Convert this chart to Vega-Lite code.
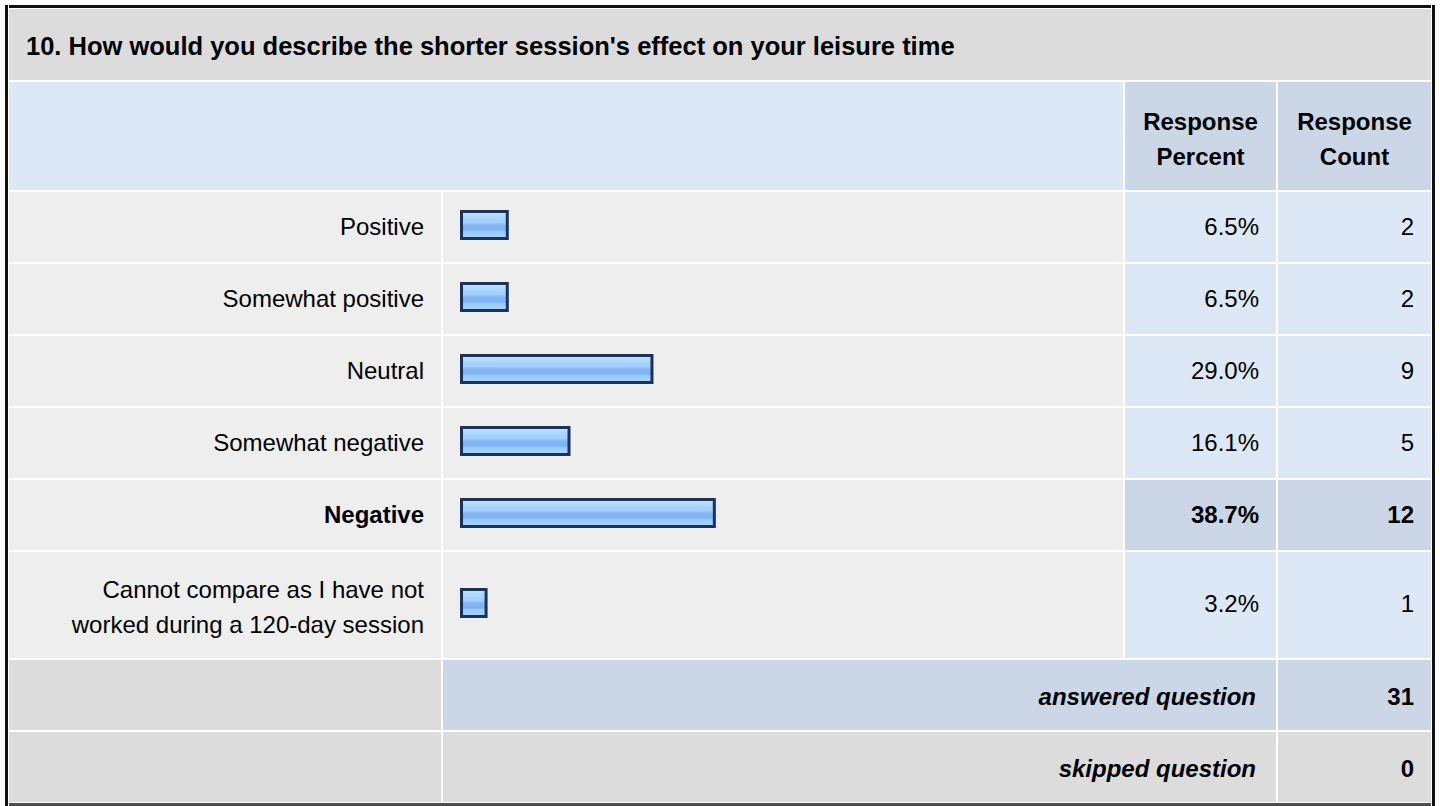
{
  "$schema": "https://vega.github.io/schema/vega-lite/v6.json",
  "padding": {"left": 5, "top": 5, "right": 0, "bottom": 0},
  "background": "#ffffff",
  "config": {
    "view": {"stroke": null},
    "text": {"font": "Liberation Sans", "fontSize": 24, "fill": "#000000"}
  },
  "datasets": {
    "answers": [
      {"answer": "Positive", "percent": 0.065, "count": 2},
      {"answer": "Somewhat positive", "percent": 0.065, "count": 2},
      {"answer": "Neutral", "percent": 0.29, "count": 9},
      {"answer": "Somewhat negative", "percent": 0.161, "count": 5},
      {"answer": "Negative", "percent": 0.387, "count": 12},
      {"answer": "Cannot compare as I have not\nworked during a 120-day session", "percent": 0.032, "count": 1}
    ],
    "summary": [
      {"label": "answered question", "value": 31},
      {"label": "skipped question", "value": 0}
    ]
  },
  "spacing": 1,
  "hconcat": [
    {"width": 3, "height": 801, "view": {"fill": "#111111"}, "data": {"values": []}, "mark": "rect", "encoding": {}},
    {
      "spacing": 1,
      "vconcat": [
        {"width": 1422, "height": 3, "view": {"fill": "#111111"}, "data": {"values": []}, "mark": "rect", "encoding": {}},
        {
          "spacing": 2,
          "vconcat": [
            {
              "width": 1422, "height": 71,
              "view": {"fill": "#dcdcdc"},
              "data": {"values": [{"question": "10. How would you describe the shorter session's effect on your leisure time"}]},
              "mark": {"type": "text", "align": "left", "baseline": "middle", "fontWeight": "bold", "fontSize": 25.5, "dx": 17, "dy": 2},
              "encoding": {"text": {"field": "question"}, "x": {"value": 0}}
            },
            {
              "spacing": 2,
              "hconcat": [
                {"width": 1114, "height": 108, "view": {"fill": "#dce8f5"}, "data": {"values": []}, "mark": "text", "encoding": {}},
                {
                  "width": 151, "height": 108, "view": {"fill": "#cbd7e6"},
                  "data": {"values": [{"heading": "Response Percent"}]},
                  "mark": {"type": "text", "fontWeight": "bold", "align": "center", "baseline": "middle", "lineBreak": " ", "lineHeight": 35, "dy": -13},
                  "encoding": {"text": {"field": "heading"}}
                },
                {
                  "width": 153, "height": 108, "view": {"fill": "#cbd7e6"},
                  "data": {"values": [{"heading": "Response Count"}]},
                  "mark": {"type": "text", "fontWeight": "bold", "align": "center", "baseline": "middle", "lineBreak": " ", "lineHeight": 35, "dy": -13},
                  "encoding": {"text": {"field": "heading"}}
                }
              ]
            },
            {
              "spacing": 2,
              "hconcat": [
                {
                  "width": 432, "height": 358,
                  "data": {"name": "answers"},
                  "transform": [
                    {"joinaggregate": [{"op": "max", "field": "count", "as": "maxCount"}]},
                    {"filter": "indexof(datum.answer, '\\n') < 0"}
                  ],
                  "encoding": {"y": {"field": "answer", "type": "nominal", "sort": null, "axis": null, "scale": {"paddingInner": 0.02778, "paddingOuter": 0}}},
                  "layer": [
                    {"mark": {"type": "rect", "fill": "#eeeeee"}, "encoding": {"x": {"value": 0}, "x2": {"value": "width"}}},
                    {"mark": {"type": "text", "align": "right", "baseline": "middle", "dx": -17, "dy": 1},
                     "encoding": {"x": {"value": "width"}, "text": {"field": "answer"}, "opacity": {"condition": {"test": "datum.count == datum.maxCount", "value": 0}, "value": 1}}},
                    {"mark": {"type": "text", "align": "right", "baseline": "middle", "dx": -17, "dy": 1, "fontWeight": "bold"},
                     "encoding": {"x": {"value": "width"}, "text": {"field": "answer"}, "opacity": {"condition": {"test": "datum.count == datum.maxCount", "value": 1}, "value": 0}}}
                  ]
                },
                {
                  "width": 680, "height": 358,
                  "data": {"name": "answers"},
                  "transform": [
                    {"joinaggregate": [{"op": "max", "field": "count", "as": "maxCount"}]},
                    {"filter": "indexof(datum.answer, '\\n') < 0"}
                  ],
                  "encoding": {"y": {"field": "answer", "type": "nominal", "sort": null, "axis": null, "scale": {"paddingInner": 0.02778, "paddingOuter": 0}}},
                  "layer": [
                    {"mark": {"type": "rect", "fill": "#eeeeee"}, "encoding": {"x": {"value": 0}, "x2": {"value": "width"}}},
                    {"mark": {"type": "bar", "height": 27, "yOffset": -2, "stroke": "#1b3358", "strokeWidth": 3,
                      "fill": {"gradient": "linear", "x1": 0, "y1": 0, "x2": 0, "y2": 1, "stops": [
                        {"offset": 0, "color": "#d4e9ff"}, {"offset": 0.15, "color": "#b2d8ff"}, {"offset": 0.42, "color": "#9ecdff"},
                        {"offset": 0.5, "color": "#84b7f4"}, {"offset": 0.68, "color": "#7db1f0"}, {"offset": 0.75, "color": "#9acaff"}, {"offset": 1, "color": "#a8d3ff"}]}},
                     "encoding": {"x": {"field": "percent", "type": "quantitative", "axis": null, "scale": {"domain": [0, 1], "range": [22.5, 665.5]}}, "x2": {"datum": -0.0062}}}
                  ]
                },
                {
                  "width": 151, "height": 358,
                  "data": {"name": "answers"},
                  "transform": [
                    {"joinaggregate": [{"op": "max", "field": "count", "as": "maxCount"}]},
                    {"filter": "indexof(datum.answer, '\\n') < 0"}
                  ],
                  "encoding": {"y": {"field": "answer", "type": "nominal", "sort": null, "axis": null, "scale": {"paddingInner": 0.02778, "paddingOuter": 0}}},
                  "layer": [
                    {"mark": "rect", "encoding": {"x": {"value": 0}, "x2": {"value": "width"}, "fill": {"condition": {"test": "datum.count == datum.maxCount", "value": "#cbd7e6"}, "value": "#dce8f5"}}},
                    {"mark": {"type": "text", "align": "right", "baseline": "middle", "dx": -17, "dy": 1},
                     "encoding": {"x": {"value": "width"}, "text": {"field": "percent", "type": "quantitative", "format": ".1%"}, "opacity": {"condition": {"test": "datum.count == datum.maxCount", "value": 0}, "value": 1}}},
                    {"mark": {"type": "text", "align": "right", "baseline": "middle", "dx": -17, "dy": 1, "fontWeight": "bold"},
                     "encoding": {"x": {"value": "width"}, "text": {"field": "percent", "type": "quantitative", "format": ".1%"}, "opacity": {"condition": {"test": "datum.count == datum.maxCount", "value": 1}, "value": 0}}}
                  ]
                },
                {
                  "width": 153, "height": 358,
                  "data": {"name": "answers"},
                  "transform": [
                    {"joinaggregate": [{"op": "max", "field": "count", "as": "maxCount"}]},
                    {"filter": "indexof(datum.answer, '\\n') < 0"}
                  ],
                  "encoding": {"y": {"field": "answer", "type": "nominal", "sort": null, "axis": null, "scale": {"paddingInner": 0.02778, "paddingOuter": 0}}},
                  "layer": [
                    {"mark": "rect", "encoding": {"x": {"value": 0}, "x2": {"value": "width"}, "fill": {"condition": {"test": "datum.count == datum.maxCount", "value": "#cbd7e6"}, "value": "#dce8f5"}}},
                    {"mark": {"type": "text", "align": "right", "baseline": "middle", "dx": -17, "dy": 1},
                     "encoding": {"x": {"value": "width"}, "text": {"field": "count", "type": "quantitative"}, "opacity": {"condition": {"test": "datum.count == datum.maxCount", "value": 0}, "value": 1}}},
                    {"mark": {"type": "text", "align": "right", "baseline": "middle", "dx": -17, "dy": 1, "fontWeight": "bold"},
                     "encoding": {"x": {"value": "width"}, "text": {"field": "count", "type": "quantitative"}, "opacity": {"condition": {"test": "datum.count == datum.maxCount", "value": 1}, "value": 0}}}
                  ]
                }
              ]
            },
            {
              "spacing": 2,
              "hconcat": [
                {
                  "width": 432, "height": 106,
                  "data": {"name": "answers"},
                  "transform": [
                    {"joinaggregate": [{"op": "max", "field": "count", "as": "maxCount"}]},
                    {"filter": "indexof(datum.answer, '\\n') >= 0"}
                  ],
                  "encoding": {"y": {"field": "answer", "type": "nominal", "sort": null, "axis": null, "scale": {"paddingInner": 0, "paddingOuter": 0}}},
                  "layer": [
                    {"mark": {"type": "rect", "fill": "#eeeeee"}, "encoding": {"x": {"value": 0}, "x2": {"value": "width"}}},
                    {"mark": {"type": "text", "align": "right", "baseline": "middle", "dx": -17, "dy": -14, "lineBreak": "\n", "lineHeight": 35},
                     "encoding": {"x": {"value": "width"}, "text": {"field": "answer"}}}
                  ]
                },
                {
                  "width": 680, "height": 106,
                  "data": {"name": "answers"},
                  "transform": [
                    {"joinaggregate": [{"op": "max", "field": "count", "as": "maxCount"}]},
                    {"filter": "indexof(datum.answer, '\\n') >= 0"}
                  ],
                  "encoding": {"y": {"field": "answer", "type": "nominal", "sort": null, "axis": null, "scale": {"paddingInner": 0, "paddingOuter": 0}}},
                  "layer": [
                    {"mark": {"type": "rect", "fill": "#eeeeee"}, "encoding": {"x": {"value": 0}, "x2": {"value": "width"}}},
                    {"mark": {"type": "bar", "height": 27, "yOffset": -2, "stroke": "#1b3358", "strokeWidth": 3,
                      "fill": {"gradient": "linear", "x1": 0, "y1": 0, "x2": 0, "y2": 1, "stops": [
                        {"offset": 0, "color": "#d4e9ff"}, {"offset": 0.15, "color": "#b2d8ff"}, {"offset": 0.42, "color": "#9ecdff"},
                        {"offset": 0.5, "color": "#84b7f4"}, {"offset": 0.68, "color": "#7db1f0"}, {"offset": 0.75, "color": "#9acaff"}, {"offset": 1, "color": "#a8d3ff"}]}},
                     "encoding": {"x": {"field": "percent", "type": "quantitative", "axis": null, "scale": {"domain": [0, 1], "range": [22.5, 665.5]}}, "x2": {"datum": -0.0062}}}
                  ]
                },
                {
                  "width": 151, "height": 106,
                  "data": {"name": "answers"},
                  "transform": [
                    {"joinaggregate": [{"op": "max", "field": "count", "as": "maxCount"}]},
                    {"filter": "indexof(datum.answer, '\\n') >= 0"}
                  ],
                  "encoding": {"y": {"field": "answer", "type": "nominal", "sort": null, "axis": null, "scale": {"paddingInner": 0, "paddingOuter": 0}}},
                  "layer": [
                    {"mark": "rect", "encoding": {"x": {"value": 0}, "x2": {"value": "width"}, "fill": {"condition": {"test": "datum.count == datum.maxCount", "value": "#cbd7e6"}, "value": "#dce8f5"}}},
                    {"mark": {"type": "text", "align": "right", "baseline": "middle", "dx": -17},
                     "encoding": {"x": {"value": "width"}, "text": {"field": "percent", "type": "quantitative", "format": ".1%"}}}
                  ]
                },
                {
                  "width": 153, "height": 106,
                  "data": {"name": "answers"},
                  "transform": [
                    {"joinaggregate": [{"op": "max", "field": "count", "as": "maxCount"}]},
                    {"filter": "indexof(datum.answer, '\\n') >= 0"}
                  ],
                  "encoding": {"y": {"field": "answer", "type": "nominal", "sort": null, "axis": null, "scale": {"paddingInner": 0, "paddingOuter": 0}}},
                  "layer": [
                    {"mark": "rect", "encoding": {"x": {"value": 0}, "x2": {"value": "width"}, "fill": {"condition": {"test": "datum.count == datum.maxCount", "value": "#cbd7e6"}, "value": "#dce8f5"}}},
                    {"mark": {"type": "text", "align": "right", "baseline": "middle", "dx": -17},
                     "encoding": {"x": {"value": "width"}, "text": {"field": "count", "type": "quantitative"}}}
                  ]
                }
              ]
            },
            {
              "spacing": 2,
              "hconcat": [
                {
                  "width": 432, "height": 142,
                  "data": {"name": "summary"},
                  "mark": {"type": "rect", "fill": "#dcdcdc"},
                  "encoding": {
                    "y": {"field": "label", "type": "nominal", "sort": null, "axis": null, "scale": {"paddingInner": 0.02778, "paddingOuter": 0}},
                    "x": {"value": 0}, "x2": {"value": "width"}
                  }
                },
                {
                  "width": 833, "height": 142,
                  "data": {"name": "summary"},
                  "encoding": {"y": {"field": "label", "type": "nominal", "sort": null, "axis": null, "scale": {"paddingInner": 0.02778, "paddingOuter": 0}}},
                  "layer": [
                    {"mark": "rect", "encoding": {"x": {"value": 0}, "x2": {"value": "width"}, "fill": {"condition": {"test": "datum.label == 'answered question'", "value": "#cbd7e6"}, "value": "#dcdcdc"}}},
                    {"mark": {"type": "text", "align": "right", "baseline": "middle", "dx": -20, "dy": 3, "fontWeight": "bold", "fontStyle": "italic"},
                     "encoding": {"x": {"value": "width"}, "text": {"field": "label"}}}
                  ]
                },
                {
                  "width": 153, "height": 142,
                  "data": {"name": "summary"},
                  "encoding": {"y": {"field": "label", "type": "nominal", "sort": null, "axis": null, "scale": {"paddingInner": 0.02778, "paddingOuter": 0}}},
                  "layer": [
                    {"mark": "rect", "encoding": {"x": {"value": 0}, "x2": {"value": "width"}, "fill": {"condition": {"test": "datum.label == 'answered question'", "value": "#cbd7e6"}, "value": "#dcdcdc"}}},
                    {"mark": {"type": "text", "align": "right", "baseline": "middle", "dx": -17, "dy": 3, "fontWeight": "bold"},
                     "encoding": {"x": {"value": "width"}, "text": {"field": "value", "type": "quantitative"}}}
                  ]
                }
              ]
            }
          ]
        },
        {"width": 1422, "height": 3, "view": {"fill": "#4d4d4d"}, "data": {"values": []}, "mark": "rect", "encoding": {}}
      ]
    },
    {"width": 3, "height": 801, "view": {"fill": "#111111"}, "data": {"values": []}, "mark": "rect", "encoding": {}}
  ]
}
